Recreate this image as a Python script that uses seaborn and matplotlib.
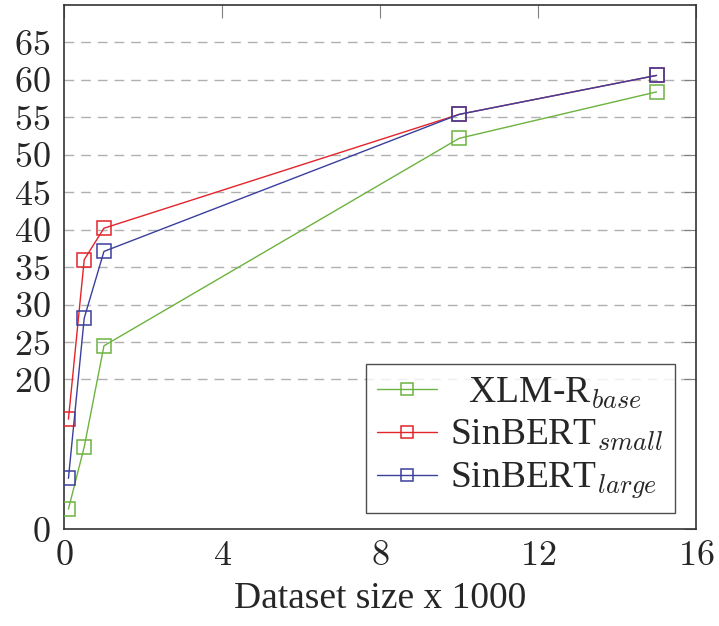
import matplotlib
matplotlib.use("Agg")
import matplotlib.pyplot as plt
import seaborn as sns
import pandas as pd

# ---- data ----
dataset_size = [0.1, 0.5, 1, 10, 15]
xlmr_base = [2.7, 11.0, 24.5, 52.2, 58.4]
sinbert_small = [14.7, 36.0, 40.2, 55.4, 60.6]
sinbert_large = [6.8, 28.2, 37.1, 55.4, 60.6]

series_names = ["  XLM-R$_{base}$", "SinBERT$_{small}$", "SinBERT$_{large}$"]
series_values = [xlmr_base, sinbert_small, sinbert_large]
series_colors = ["#6cb33f", "#e3242b", "#3b3f9c"]

x_ticks = [0, 4, 8, 12, 16]
y_ticks = [0, 20, 25, 30, 35, 40, 45, 50, 55, 60, 65]
grid_levels = [20, 25, 30, 35, 40, 45, 50, 55, 60, 65]

sns.set_theme(style="white")
plt.rcParams["font.family"] = ["Liberation Serif", "DejaVu Serif"]
plt.rcParams["mathtext.fontset"] = "cm"

fig = plt.figure(figsize=(7.19, 6.26), dpi=100)
ax = fig.add_axes([0.0897, 0.1545, 0.8783, 0.8375])

for lvl in grid_levels:
    ax.axhline(lvl, color="#b0b0b0", lw=1.0, ls=(0, (7, 5)), zorder=0)

for name, vals, col in zip(series_names, series_values, series_colors):
    df = pd.DataFrame({"size": dataset_size, "score": vals})
    sns.lineplot(data=df, x="size", y="score", ax=ax, color=col, lw=1.0,
                 marker="s", markersize=9.5, markerfacecolor="none",
                 markeredgecolor=col, markeredgewidth=1.1, label=name,
                 zorder=3)

ax.set_xlim(0, 16)
ax.set_ylim(0, 70)
ax.set_xticks(x_ticks, labels=[f"${v}$" for v in x_ticks])
ax.set_yticks(y_ticks, labels=[f"${v}$" for v in y_ticks])
ax.tick_params(axis="both", which="both", direction="in", length=9,
               width=0.8, color="#808080", top=True, right=True,
               labelsize=26)
ax.tick_params(axis="x", pad=8)
ax.tick_params(axis="y", pad=10)

for sp in ax.spines.values():
    sp.set_visible(True)
    sp.set_color("#333333")
    sp.set_linewidth(1.2)

ax.set_xlabel("Dataset size x 1000", fontsize=27, labelpad=6)
ax.set_ylabel("")

leg = ax.legend(loc="lower right", bbox_to_anchor=(0.9668, 0.0317),
                borderaxespad=0, fontsize=27, frameon=True, fancybox=False,
                edgecolor="#222222", handlelength=1.6, handletextpad=0.35,
                labelspacing=0.2, borderpad=0.3, markerscale=0.9)
leg.get_frame().set_linewidth(1.0)

fig.savefig("out.png", dpi=100)
